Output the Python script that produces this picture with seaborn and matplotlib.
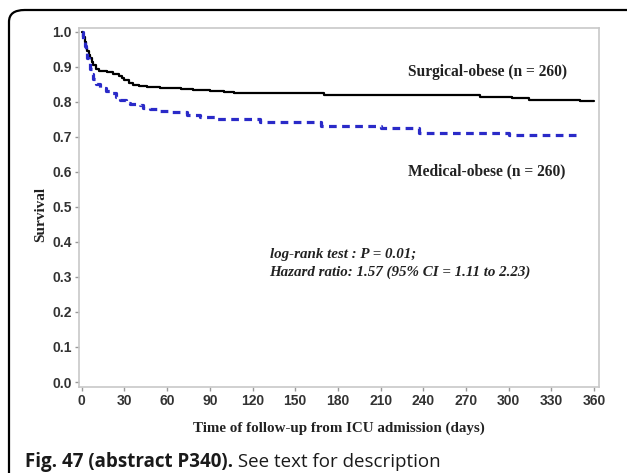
import seaborn as sns
import matplotlib.pyplot as plt
import pandas as pd
from matplotlib.patches import FancyBboxPatch

# Kaplan-Meier step points
surg_time = [0, 1, 2, 3, 4, 5, 6, 7, 8, 10, 12, 18, 22, 26, 28, 30, 33, 36, 40, 46,
             55, 70, 78, 90, 100, 107, 170, 280, 302, 314, 350, 360]
surg_surv = [1.0, 0.985, 0.97, 0.955, 0.945, 0.935, 0.925, 0.915, 0.905, 0.893, 0.889,
             0.886, 0.88, 0.875, 0.868, 0.862, 0.855, 0.849, 0.846, 0.842, 0.840, 0.838,
             0.834, 0.831, 0.828, 0.825, 0.820, 0.815, 0.810, 0.806, 0.801, 0.801]

med_time = [0, 1, 2, 3, 4, 5, 6, 7, 8, 10, 13, 17, 20, 24, 27, 31, 34, 41, 43, 48, 53,
            62, 74, 83, 95, 125, 168, 210, 237, 300, 347]
med_surv = [1.0, 0.98, 0.96, 0.94, 0.925, 0.91, 0.895, 0.88, 0.865, 0.85, 0.84, 0.832,
            0.825, 0.815, 0.806, 0.798, 0.794, 0.79, 0.783, 0.779, 0.775, 0.77, 0.763,
            0.758, 0.75, 0.741, 0.732, 0.726, 0.712, 0.706, 0.706]

x_ticks = [0, 30, 60, 90, 120, 150, 180, 210, 240, 270, 300, 330, 360]
y_ticks = [0.0, 0.1, 0.2, 0.3, 0.4, 0.5, 0.6, 0.7, 0.8, 0.9, 1.0]

surg = pd.DataFrame({'time': surg_time, 'surv': surg_surv})
med = pd.DataFrame({'time': med_time, 'surv': med_surv})

sns.set_style("white")
plt.rcParams['font.family'] = ['Liberation Sans', 'DejaVu Sans']

fig = plt.figure(figsize=(6.27, 4.73), dpi=100)
ax = fig.add_axes([0.126, 0.182, 0.829, 0.759])

sns.lineplot(data=surg, x='time', y='surv', ax=ax, color='black', lw=1.6,
             drawstyle='steps-post', estimator=None, sort=False)
sns.lineplot(data=med, x='time', y='surv', ax=ax, color='#2a2ac8', lw=2.3,
             drawstyle='steps-post', estimator=None, sort=False)
ax.lines[-1].set_dashes([2.4, 1.7])

ax.set_xlim(-1.9, 363.3)
ax.set_ylim(-0.014, 1.011)
ax.set_xticks(x_ticks)
ax.set_yticks(y_ticks)
ax.set_yticklabels([f'{v:.1f}' for v in y_ticks])
ax.tick_params(axis='both', labelsize=10, labelcolor='#333333', color='#999999',
               length=3, width=1, direction='out', bottom=True, left=True, pad=2)
for lab in ax.get_xticklabels() + ax.get_yticklabels():
    lab.set_fontweight('bold')
for s in ax.spines.values():
    s.set_color('#c8c8c8')
    s.set_linewidth(1.2)

serif = 'Liberation Serif'
ax.set_xlabel('Time of follow-up from ICU admission (days)', family=serif,
              fontweight='bold', fontsize=10.8, color='#222222', labelpad=10)
ax.set_ylabel('Survival', family=serif, fontweight='bold', fontsize=11,
              color='#222222')
ax.yaxis.set_label_coords(-0.062, 0.48)

ax.text(229, 0.886, 'Surgical-obese (n = 260)', family=serif, fontweight='bold',
        fontsize=11.2, ha='left', va='center', color='#222222')
ax.text(229, 0.600, 'Medical-obese (n = 260)', family=serif, fontweight='bold',
        fontsize=11.2, ha='left', va='center', color='#222222')
ax.text(132, 0.363, 'log-rank test : P = 0.01;', family=serif, fontweight='bold',
        style='italic', fontsize=10.8, ha='left', va='center', color='#222222')
ax.text(132, 0.314, 'Hazard ratio: 1.57 (95% CI = 1.11 to 2.23)', family=serif,
        fontweight='bold', style='italic', fontsize=10.8, ha='left', va='center',
        color='#222222')

# rounded frame around the figure panel (open at the bottom / right)
frame = FancyBboxPatch((9 / 627, -0.2), 1.2, 1.2 - 10 / 473,
                       boxstyle='round,pad=0,rounding_size=0.025',
                       transform=fig.transFigure, fill=False, ec='black', lw=1.6,
                       clip_on=True)
fig.patches.append(frame)

cap_y = 1 - 462 / 473
t1 = fig.text(25 / 627, cap_y, 'Fig. 47 (abstract P340).', family='Open Sans',
              fontweight='bold', fontsize=13.5, color='#1a1a1a', va='center')
fig.canvas.draw()
bb = t1.get_window_extent()
fig.text(bb.x1 / fig.bbox.width, cap_y, ' See text for description',
         family='Open Sans', fontsize=13.5, color='#1a1a1a', va='center')

plt.savefig('out.png', dpi=100)
plt.close()
